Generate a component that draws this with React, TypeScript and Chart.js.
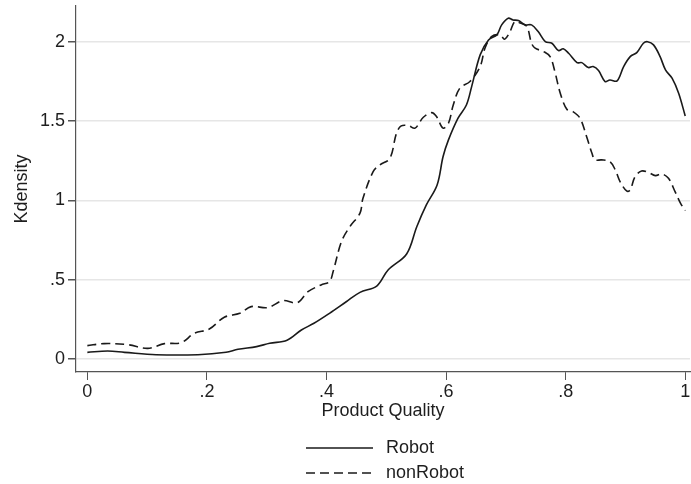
import React, { useEffect, useRef } from "react";
import { Chart, registerables } from "chart.js";

Chart.register(...registerables);

const robotX = [0.000, 0.034, 0.062, 0.115, 0.185, 0.232, 0.252, 0.283, 0.305, 0.334, 0.358, 0.379, 0.405, 0.433, 0.456, 0.484, 0.503, 0.534, 0.551, 0.567, 0.585, 0.595, 0.604, 0.620, 0.634, 0.643, 0.657, 0.671, 0.685, 0.693, 0.704, 0.712, 0.721, 0.732, 0.743, 0.754, 0.766, 0.777, 0.788, 0.796, 0.805, 0.819, 0.827, 0.838, 0.846, 0.855, 0.866, 0.874, 0.886, 0.897, 0.908, 0.919, 0.930, 0.937, 0.947, 0.958, 0.967, 0.978, 0.989, 1.000];
const robotY = [0.042, 0.050, 0.042, 0.027, 0.027, 0.042, 0.061, 0.078, 0.099, 0.118, 0.183, 0.225, 0.288, 0.361, 0.420, 0.460, 0.561, 0.662, 0.834, 0.971, 1.097, 1.276, 1.381, 1.518, 1.601, 1.720, 1.917, 2.011, 2.043, 2.106, 2.148, 2.137, 2.133, 2.106, 2.106, 2.064, 2.000, 1.990, 1.944, 1.955, 1.927, 1.868, 1.868, 1.837, 1.843, 1.818, 1.749, 1.759, 1.753, 1.843, 1.906, 1.931, 1.990, 2.000, 1.980, 1.906, 1.822, 1.770, 1.675, 1.532];

const nonRobotX = [0.000, 0.028, 0.068, 0.101, 0.129, 0.157, 0.179, 0.204, 0.229, 0.255, 0.274, 0.302, 0.327, 0.351, 0.369, 0.391, 0.405, 0.411, 0.425, 0.439, 0.456, 0.461, 0.478, 0.489, 0.506, 0.517, 0.525, 0.537, 0.548, 0.562, 0.576, 0.584, 0.595, 0.604, 0.612, 0.623, 0.640, 0.657, 0.665, 0.676, 0.690, 0.698, 0.707, 0.715, 0.724, 0.735, 0.743, 0.749, 0.763, 0.774, 0.782, 0.791, 0.802, 0.812, 0.824, 0.835, 0.844, 0.849, 0.860, 0.874, 0.883, 0.891, 0.902, 0.908, 0.916, 0.927, 0.939, 0.950, 0.961, 0.972, 0.983, 0.992, 1.000];
const nonRobotY = [0.084, 0.097, 0.090, 0.067, 0.097, 0.103, 0.162, 0.189, 0.263, 0.288, 0.330, 0.324, 0.368, 0.355, 0.424, 0.467, 0.488, 0.550, 0.740, 0.834, 0.919, 1.013, 1.181, 1.223, 1.265, 1.423, 1.469, 1.471, 1.455, 1.524, 1.553, 1.528, 1.455, 1.486, 1.601, 1.707, 1.749, 1.843, 1.959, 2.032, 2.043, 2.016, 2.064, 2.127, 2.117, 2.096, 1.990, 1.959, 1.938, 1.906, 1.811, 1.675, 1.574, 1.560, 1.518, 1.402, 1.297, 1.255, 1.255, 1.244, 1.192, 1.118, 1.059, 1.066, 1.149, 1.185, 1.175, 1.156, 1.166, 1.139, 1.055, 0.982, 0.935];

const xTickValues = [0, 0.2, 0.4, 0.6, 0.8, 1];
const xTickLabels = ["0", ".2", ".4", ".6", ".8", "1"];
const yTickValues = [0, 0.5, 1, 1.5, 2];
const yTickLabels = ["0", ".5", "1", "1.5", "2"];
const seriesNames = ["Robot", "nonRobot"];

const FONT = "'Liberation Sans', Arial, sans-serif";
const FS = 18;
const INK = "#1a1a1a";
const TEXT = "#1e1e1e";
const AXIS = "#555555";
const DASH = [9, 5];

const legendPlugin = {
  id: "stataLegend",
  afterDraw(chart: any) {
    const { ctx, chartArea } = chart;
    const cx = (chartArea.left + chartArea.right) / 2;
    const lineLeft = cx - 77;
    const lineRight = cx - 10;
    const textX = cx + 3;
    const rows = [
      { y: 448, dash: [] as number[], label: seriesNames[0] },
      { y: 473, dash: DASH, label: seriesNames[1] },
    ];
    ctx.save();
    rows.forEach((r) => {
      ctx.beginPath();
      ctx.setLineDash(r.dash);
      ctx.lineWidth = 1.6;
      ctx.strokeStyle = INK;
      ctx.moveTo(lineLeft, r.y);
      ctx.lineTo(lineRight, r.y);
      ctx.stroke();
      ctx.setLineDash([]);
      ctx.fillStyle = TEXT;
      ctx.font = `${FS}px ${FONT}`;
      ctx.textAlign = "left";
      ctx.textBaseline = "middle";
      ctx.fillText(r.label, textX, r.y);
    });
    ctx.restore();
  },
};

export default function App() {
  const ref = useRef<HTMLCanvasElement>(null);

  useEffect(() => {
    document.body.style.margin = "0";
    const canvas = ref.current!;
    const chart = new Chart(canvas, {
      type: "line",
      data: {
        datasets: [
          {
            label: seriesNames[0],
            data: robotX.map((x, i) => ({ x, y: robotY[i] })),
            borderColor: INK,
            borderWidth: 1.6,
            pointRadius: 0,
            tension: 0.35,
            fill: false,
          },
          {
            label: seriesNames[1],
            data: nonRobotX.map((x, i) => ({ x, y: nonRobotY[i] })),
            borderColor: INK,
            borderWidth: 1.6,
            borderDash: DASH,
            pointRadius: 0,
            tension: 0.35,
            fill: false,
          },
        ],
      },
      plugins: [legendPlugin],
      options: {
        animation: false,
        responsive: false,
        maintainAspectRatio: false,
        layout: { padding: { top: 6, right: 1, bottom: 62, left: 0 } },
        plugins: { legend: { display: false }, tooltip: { enabled: false } },
        scales: {
          x: {
            type: "linear",
            min: -0.019,
            max: 1.008,
            afterBuildTicks: (s: any) => {
              s.ticks = xTickValues.map((v) => ({ value: v }));
            },
            afterFit: (s: any) => {
              s.height = 50;
              s.paddingLeft = 0;
              s.paddingRight = 0;
            },
            ticks: {
              autoSkip: false,
              maxRotation: 0,
              padding: 1,
              color: TEXT,
              font: { family: FONT, size: FS },
              callback: (v: any) => {
                const i = xTickValues.findIndex((t) => Math.abs(t - v) < 1e-9);
                return i >= 0 ? xTickLabels[i] : "";
              },
            },
            grid: {
              drawOnChartArea: false,
              drawTicks: true,
              tickLength: 8,
              tickColor: AXIS,
              lineWidth: 1,
            },
            border: { display: true, color: AXIS, width: 1.2 },
            title: {
              display: true,
              text: "Product Quality",
              color: TEXT,
              font: { family: FONT, size: FS },
              padding: { top: 0, bottom: 0 },
            },
          },
          y: {
            type: "linear",
            min: -0.082,
            max: 2.225,
            afterBuildTicks: (s: any) => {
              s.ticks = yTickValues.map((v) => ({ value: v }));
            },
            afterFit: (s: any) => {
              s.width = 76;
              s.paddingTop = 0;
              s.paddingBottom = 0;
            },
            ticks: {
              autoSkip: false,
              padding: 3,
              color: TEXT,
              font: { family: FONT, size: FS },
              callback: (v: any) => {
                const i = yTickValues.findIndex((t) => Math.abs(t - v) < 1e-9);
                return i >= 0 ? yTickLabels[i] : "";
              },
            },
            grid: {
              drawOnChartArea: true,
              drawTicks: true,
              tickLength: 8,
              color: "#e6e6e6",
              tickColor: AXIS,
              lineWidth: 1.5,
            },
            border: { display: true, color: AXIS, width: 1.2 },
            title: {
              display: true,
              text: "Kdensity",
              color: TEXT,
              font: { family: FONT, size: FS },
              padding: { top: 11, bottom: 0 },
            },
          },
        },
      },
    });
    return () => chart.destroy();
  }, []);

  return <canvas ref={ref} width={691} height={484} style={{ display: "block" }} />;
}
